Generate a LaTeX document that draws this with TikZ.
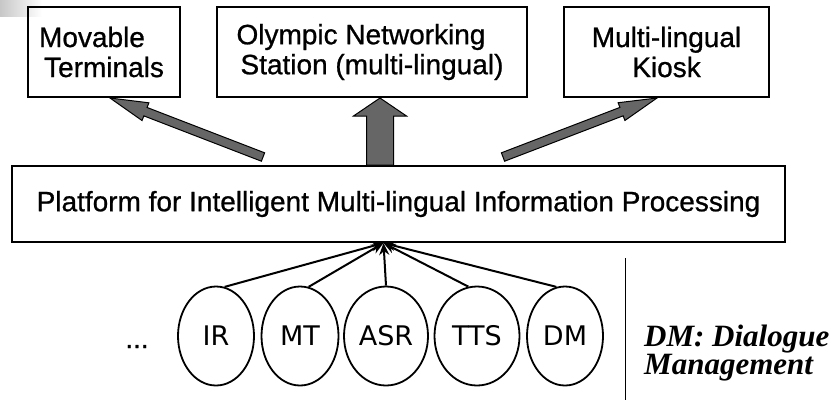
\documentclass[tikz,border=0pt]{standalone}
\usepackage{fontspec}
\newfontfamily\boxfont[FakeBold=0.8]{Liberation Sans}
\newfontfamily\ovalfont{DejaVu Sans}
\newfontfamily\notefont{Liberation Serif}
\usetikzlibrary{calc,arrows.meta,shapes.geometric}

% tail, tip, shaft half width, head half width, head length
\newcommand{\fatarrow}[5]{%
  \coordinate (hb) at ($(#2)!#5!(#1)$);
  \draw[fat] ($(#1)!#3!90:(#2)$) -- ($(hb)!#3!90:(#2)$) -- ($(hb)!#4!90:(#2)$)
    -- (#2) -- ($(hb)!#4!-90:(#2)$) -- ($(hb)!#3!-90:(#2)$) -- ($(#1)!#3!-90:(#2)$) -- cycle;
}

\begin{document}
\begin{tikzpicture}[x=1pt, y=-1pt,
  box/.style={draw, line width=2pt, inner sep=0pt, align=center,
    font=\boxfont\fontsize{28}{30}\selectfont},
  oval/.style={draw, ellipse, line width=1.8pt, inner sep=0pt, minimum height=99pt,
    font=\ovalfont\fontsize{27}{30}\selectfont},
  fat/.style={draw=black, line width=1pt, fill=black!60, line join=miter},
  feed/.style={line width=2pt, -{Stealth[length=12pt, width=10pt]}}]
  \useasboundingbox (0,0) rectangle (837,400);
  \shade[left color=black!22, right color=white] (0,0) rectangle (42,16);

  \node[box, minimum width=152pt, minimum height=90pt] (movable) at (104,52)
    {Movable\hspace*{24pt}\\Terminals};
  \node[box, minimum width=310pt, minimum height=90pt] (olympic) at (372,52)
    {Olympic Networking\hspace*{22pt}\\Station (multi-lingual)};
  \node[box, minimum width=205pt, minimum height=90pt] (kiosk) at (666.5,52)
    {Multi-lingual\\Kiosk};
  \node[box, minimum width=773pt, minimum height=76pt] (platform) at (398.5,204)
    {Platform for Intelligent Multi-lingual Information Processing};

  \coordinate (ltail) at ($(platform.north)+(-135.5,-8)$);
  \coordinate (rtail) at ($(platform.north)+(104.5,-8)$);
  \coordinate (ctail) at ($(platform.north)+(-18.5,0)$);
  \fatarrow{ltail}{$(movable.south)+(6,0)$}{4.5pt}{9.5pt}{38pt}
  \fatarrow{ctail}{$(olympic.south)+(8,0)$}{13.5pt}{26.5pt}{18pt}
  \fatarrow{rtail}{$(kiosk.south)+(-9.5,0)$}{4.5pt}{9.5pt}{38pt}

  \node[oval, minimum width=76pt] (ir) at (216,336) {IR};
  \node[oval, minimum width=77pt] (mt) at (300,336) {MT};
  \node[oval, minimum width=84pt] (asr) at (386,336) {ASR};
  \node[oval, minimum width=85pt] (tts) at (477,336) {TTS};
  \node[oval, minimum width=76pt] (dm) at (565,336) {DM};
  \node[anchor=base, font=\boxfont\fontsize{28}{30}\selectfont] (dots) at (137,348) {...};

  \coordinate (conv) at ($(platform.south)+(-15,0)$);
  \draw[feed] (ir.80) -- (conv);
  \draw[feed] (mt.80) -- (conv);
  \draw[feed] (asr.north) -- (conv);
  \draw[feed] (tts.100) -- (conv);
  \draw[feed] (dm.100) -- (conv);

  \draw[line width=1pt] (625,258) -- (625,400);
  \node[anchor=base west, align=left, inner sep=0pt,
    font=\notefont\bfseries\itshape\fontsize{31}{28}\selectfont] (note) at (644,374)
    {DM: Dialogue\\Management};
\end{tikzpicture}
\end{document}
